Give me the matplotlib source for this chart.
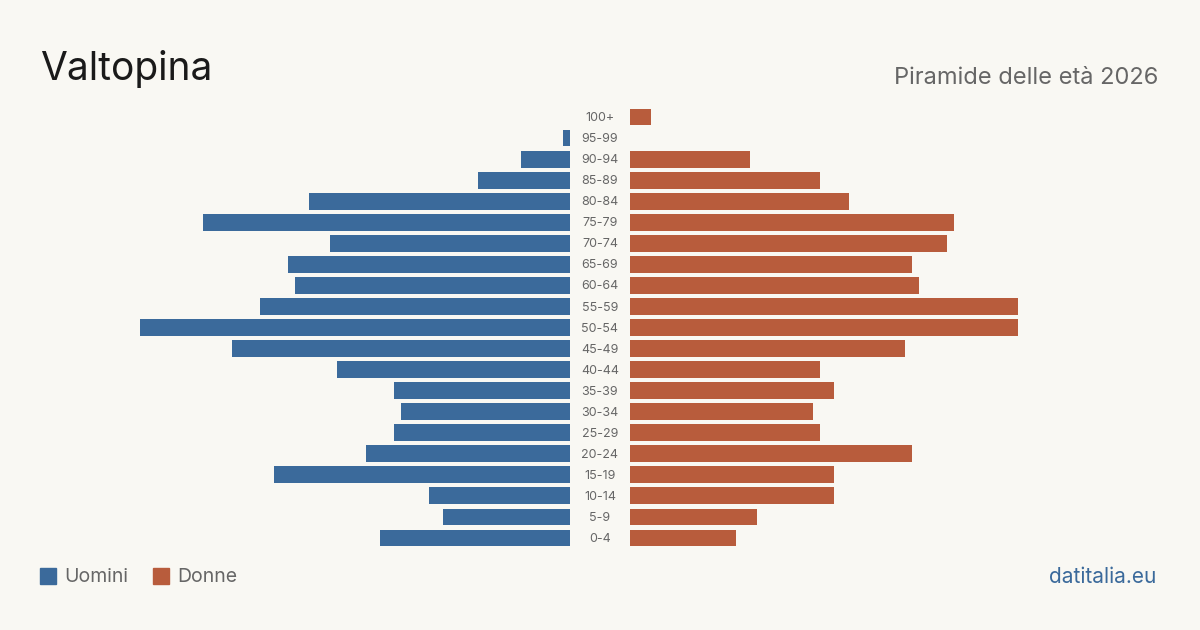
import matplotlib.pyplot as plt
from matplotlib.patches import Rectangle
from matplotlib.transforms import blended_transform_factory

# Age classes, top to bottom as in the chart
ages = ["100+", "95-99", "90-94", "85-89", "80-84", "75-79", "70-74", "65-69",
        "60-64", "55-59", "50-54", "45-49", "40-44", "35-39", "30-34", "25-29",
        "20-24", "15-19", "10-14", "5-9", "0-4"]
uomini = [0, 1, 7, 13, 37, 52, 34, 40, 39, 44, 61, 48, 33, 25, 24, 25, 29, 42, 20, 18, 27]
donne = [3, 0, 17, 27, 31, 46, 45, 40, 41, 55, 55, 39, 27, 29, 26, 27, 40, 29, 29, 18, 15]

BG = "#f9f8f3"
BLUE = "#3b6a9b"
RED = "#b85c3c"
GREY = "#666666"

plt.rcParams['font.family'] = ['Inter', 'DejaVu Sans']

fig = plt.figure(figsize=(12, 6.3), dpi=100, facecolor=BG)

# left (men) and right (women) axes, centre gap for the labels
W, H = 1200, 630
bottom = (H - 548.5) / H
height = 442 / H
ax_l = fig.add_axes([130 / W, bottom, 440 / W, height])
ax_r = fig.add_axes([630 / W, bottom, 440 / W, height])

xmax = 440 / 7.05
ypos = list(range(len(ages)))[::-1]

ax_l.barh(ypos, uomini, height=0.8, color=BLUE)
ax_r.barh(ypos, donne, height=0.8, color=RED)
ax_l.set_xlim(xmax, 0)
ax_r.set_xlim(0, xmax)

for ax in (ax_l, ax_r):
    ax.set_ylim(-0.5, len(ages) - 0.5)
    ax.set_facecolor("none")
    ax.axis("off")

trans = blended_transform_factory(fig.transFigure, ax_r.transData)
for y, lab in zip(ypos, ages):
    fig.text(0.5, y - 0.05, lab, transform=trans, ha="center", va="center",
             fontsize=9, color=GREY)

fig.text(40 / W, 1 - 69 / H, "Valtopina", fontsize=28, color="#1a1a1a",
         ha="left", va="center")
fig.text(1158 / W, 1 - 78 / H, "Piramide delle età 2026", fontsize=17,
         color=GREY, ha="right", va="center")

# legend
fig.patches.append(Rectangle((40 / W, 1 - 584 / H), 16 / W, 16 / H,
                             transform=fig.transFigure, color=BLUE))
fig.text(64 / W, 1 - 577 / H, "Uomini", fontsize=14, color=GREY,
         ha="left", va="center")
fig.patches.append(Rectangle((153 / W, 1 - 584 / H), 16 / W, 16 / H,
                             transform=fig.transFigure, color=RED))
fig.text(177 / W, 1 - 577 / H, "Donne", fontsize=14, color=GREY,
         ha="left", va="center")

fig.text(1156 / W, 1 - 577 / H, "datitalia.eu", fontsize=15, color=BLUE,
         ha="right", va="center")

fig.savefig("out.png", dpi=100, facecolor=BG)
